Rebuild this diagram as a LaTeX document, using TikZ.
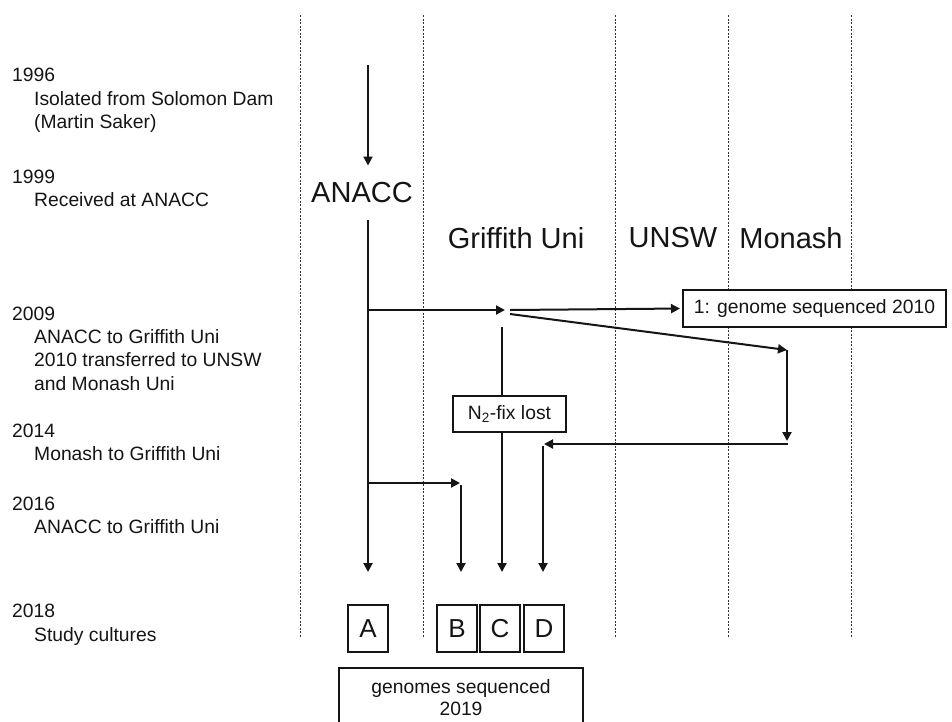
\documentclass[tikz,border=0pt]{standalone}
\usepackage{fontspec}
\setmainfont{Liberation Sans}
\usetikzlibrary{arrows.meta}
\definecolor{ink}{HTML}{151515}
\begin{document}
\begin{tikzpicture}[x=1pt,y=-1pt,
  conn/.style={draw=ink, line width=2pt},
  arr/.style={conn, -{Triangle[length=9pt,width=9pt]}},
  lane/.style={draw=black!80, line width=0.8pt, dash pattern=on 2pt off 1.5pt},
  txt/.style={anchor=base west, inner sep=0pt, text=ink, font=\fontsize{19.3}{23}\selectfont},
  head/.style={inner sep=0pt, text=ink, font=\fontsize{29}{34}\selectfont},
  boxed/.style={draw=ink, line width=2pt, fill=white, text=ink, font=\fontsize{19.3}{23}\selectfont},
  letter/.style={draw=ink, line width=2pt, fill=white, text=ink, minimum width=40pt, minimum height=47pt, inner sep=0pt, font=\fontsize{26}{30}\selectfont}
]
\useasboundingbox (0,0) rectangle (952,721);
\clip (0,0) rectangle (952,721);
\fill[white] (0,0) rectangle (952,721);

% lane separators
\foreach \xx in {300,423,615,728,851}
  \draw[lane] (\xx,15) -- (\xx,637);

% left timeline text
\node[txt] (y1996) at (12,81) {1996};
\node[txt] (t1a) at (34,105) {Isolated from Solomon Dam};
\node[txt] (t1b) at (34,128) {(Martin Saker)};
\node[txt] (y1999) at (12,183) {1999};
\node[txt] (t2a) at (34,206) {Received at ANACC};
\node[txt] (y2009) at (12,320) {2009};
\node[txt] (t3a) at (34,343) {ANACC to Griffith Uni};
\node[txt] (t3b) at (34,366) {2010 transferred to UNSW};
\node[txt] (t3c) at (34,390) {and Monash Uni};
\node[txt] (y2014) at (12,437) {2014};
\node[txt] (t4a) at (34,460) {Monash to Griffith Uni};
\node[txt] (y2016) at (12,510) {2016};
\node[txt] (t5a) at (34,533) {ANACC to Griffith Uni};
\node[txt] (y2018) at (12,617) {2018};
\node[txt] (t6a) at (34,641) {Study cultures};

% column headers
\node[head, inner ysep=17pt] (ANACC) at (362,193) {ANACC};
\node[head] (griffith) at (516,238) {Griffith Uni};
\node[head] (unsw) at (673,238) {UNSW};
\node[head] (monash) at (791,238) {Monash};

% boxes
\node[boxed, minimum width=263pt, minimum height=37pt] (seq1) at (814.5,308.5) {1: genome sequenced 2010};
\node[boxed, minimum width=113pt, minimum height=36pt] (nfix) at (509.5,414) {N\textsubscript{2}-fix lost};
\node[letter] (A) at (368,628.5) {A};
\node[letter] (B) at (457,628.5) {B};
\node[letter] (C) at (500,628.5) {C};
\node[letter] (D) at (544,628.5) {D};
\node[boxed, anchor=north, minimum width=244pt, minimum height=75pt, inner sep=0pt, text height=0pt, text depth=0pt] (gs) at (461,667) {};
\node[txt, anchor=base] (gs1) at (461,693) {genomes sequenced};
\node[txt, anchor=base] (gs2) at (461,715) {2019};

% coordinates
\coordinate (a0) at (368,65);
\coordinate (j1) at (368,310);
\coordinate (g1) at (505,310);
\coordinate (g0) at (510,310);
\coordinate (g3) at (510,314);
\coordinate (m1) at (787,350);
\coordinate (m2) at (787,441);
\coordinate (m3) at (788,444);
\coordinate (d1) at (544,444);
\coordinate (d2) at (543,446);
\coordinate (g2) at (502,327);
\coordinate (j2) at (368,483);
\coordinate (b0) at (460,483);
\coordinate (b1) at (461,485);

% connectors
\draw[arr] (a0) -- (a0 |- ANACC.north);
\draw[arr, shorten >=32pt] (a0 |- ANACC.south) -- (a0 |- A.north);
\draw[arr] (j1) -- (g1);
\draw[arr, shorten >=2pt] (g0) -- (seq1.west);
\draw[arr] (g3) -- (m1);
\draw[arr] (m1) -- (m2);
\draw[arr] (m3) -- (d1);
\draw[arr, shorten >=32pt] (d2) -- (d2 |- D.north);
\draw[conn] (g2) -- (g2 |- nfix.north);
\draw[arr, shorten >=32pt] (g2 |- nfix.south) -- (g2 |- C.north);
\draw[arr] (j2) -- (b0);
\draw[arr, shorten >=32pt] (b1) -- (b1 |- B.north);
\end{tikzpicture}
\end{document}
